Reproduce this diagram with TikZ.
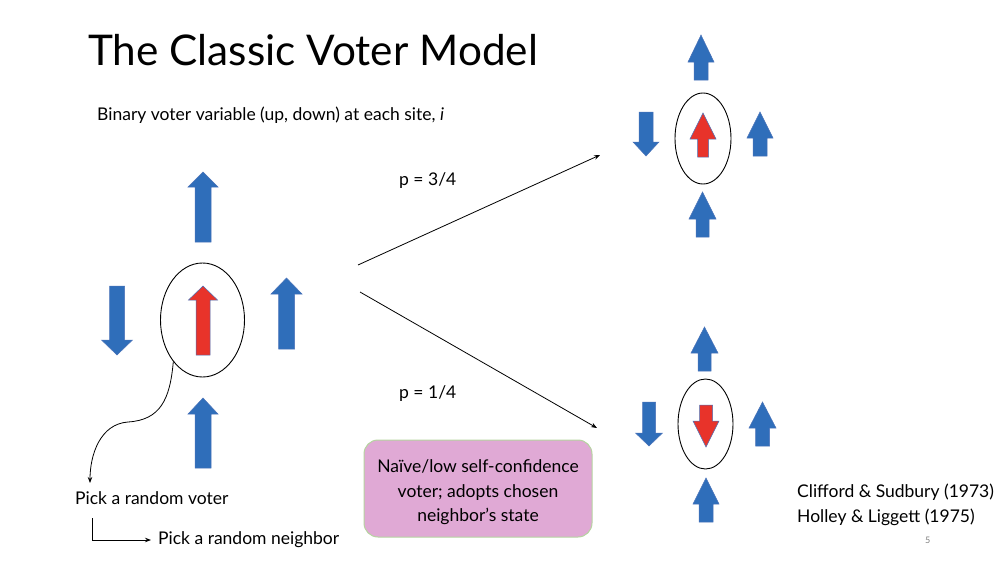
\documentclass[tikz,border=0pt]{standalone}
\usepackage{fontspec}
\setmainfont{Lato}
\usetikzlibrary{arrows.meta,shapes.geometric}
\definecolor{spinblue}{HTML}{2F6EBA}
\definecolor{spinred}{HTML}{E8332A}
\definecolor{spinedge}{HTML}{4A72B8}
\definecolor{notefill}{HTML}{E0A9D5}
\definecolor{noteedge}{HTML}{B5D4A0}
\newcommand\bodysize{\fontsize{17.5}{24.5}\selectfont}
\tikzset{
  site/.style={draw=black, line width=0.9pt, ellipse, inner sep=0pt},
  link/.style={draw=black, line width=0.8pt, -{Stealth[length=6pt,width=4.5pt]}},
  label/.style={inner sep=0pt, anchor=west, font=\bodysize},
  notebox/.style={draw=noteedge, fill=notefill, line width=1pt, rounded corners=14pt,
    minimum width=228pt, minimum height=97pt},
  notetext/.style={inner sep=0pt, align=center, font=\bodysize},
}
% block arrow: colour, x, tip y, head-base y, tail y, head half-width, shaft half-width
\newcommand\blockarrow[7]{%
  \filldraw[fill=#1, draw=spinedge, line width=0.5pt]
    (#2,#3) -- (#2+#6,#4) -- (#2+#7,#4) -- (#2+#7,#5) -- (#2-#7,#5)
    -- (#2-#7,#4) -- (#2-#6,#4) -- cycle;}
\begin{document}
\begin{tikzpicture}[x=1pt,y=-1pt]
\useasboundingbox (0,0) rectangle (997,562);

% title and subtitle
\node[label, font=\fontsize{42.3}{50}\selectfont] (title) at (88,50) {The Classic Voter Model};
\node[label] (sub) at (97,115) {Binary voter variable (up, down) at each site, \textit{i}};

% left configuration
\node[site, minimum width=84pt, minimum height=114pt] (c0) at (202.5,320) {};
\blockarrow{spinblue}{203}{172}{187}{242}{15}{8}
\blockarrow{spinblue}{117}{355}{340}{286}{15.5}{7.5}
\blockarrow{spinred}{203}{286}{300}{355}{14.5}{7}
\blockarrow{spinblue}{286.5}{278}{294}{349}{15.5}{8}
\blockarrow{spinblue}{203}{398}{414}{468}{15}{8}

% upper-right configuration (p = 3/4)
\node[site, minimum width=56pt, minimum height=91pt] (c1) at (703,138.5) {};
\blockarrow{spinblue}{701}{35}{62}{80}{13}{7}
\blockarrow{spinblue}{646}{156}{142}{112}{13}{7}
\blockarrow{spinred}{703}{113}{139}{157}{13}{5.5}
\blockarrow{spinblue}{760}{112}{138}{156}{13}{7}
\blockarrow{spinblue}{702.5}{192}{219}{237}{13.5}{6.5}

% lower-right configuration (p = 1/4)
\node[site, minimum width=55pt, minimum height=90pt] (c2) at (705.5,424) {};
\blockarrow{spinblue}{704.5}{327}{353}{371}{13.5}{6.5}
\blockarrow{spinblue}{649}{446}{433}{402}{13.5}{6.5}
\blockarrow{spinred}{706}{447}{421}{405}{13}{6.5}
\blockarrow{spinblue}{762.5}{402}{428}{446}{13.5}{7}
\blockarrow{spinblue}{706}{478}{504}{522}{13}{7}

% transitions
\coordinate (upA) at (358,265);
\coordinate (upB) at (600,155);
\coordinate (dnA) at (360,292);
\coordinate (dnB) at (597,428);
\draw[link] (upA) -- (upB);
\draw[link] (dnA) -- (dnB);
\node[label] (p1) at (399,181) {p = 3/4};
\node[label] (p2) at (399,394) {p = 1/4};

% update rule
\node[label] (pv) at (75,498) {Pick a random voter};
\node[label] (pn) at (158,540) {Pick a random neighbor};
\coordinate (elbow) at (92,518);
\draw[link] (c0.235) .. controls (170,400) and (160,420) .. (128,422)
  .. controls (100,424) and (90,455) .. (90,483);
\draw[link, shorten >=7pt] (elbow) |- (pn.west);

% note box
\node[notebox] (note) at (478,488.5) {};
\node[notetext] (notetxt) at (478,492.5) {Naïve/low self-confidence\\voter; adopts chosen\\neighbor’s state};

% references and page number
\node[label, align=left] (refs) at (797,505) {Clifford \& Sudbury (1973)\\Holley \& Liggett (1975)};
\node[label, font=\fontsize{9}{10}\selectfont, text=gray] (page) at (925,540) {5};
\end{tikzpicture}
\end{document}
